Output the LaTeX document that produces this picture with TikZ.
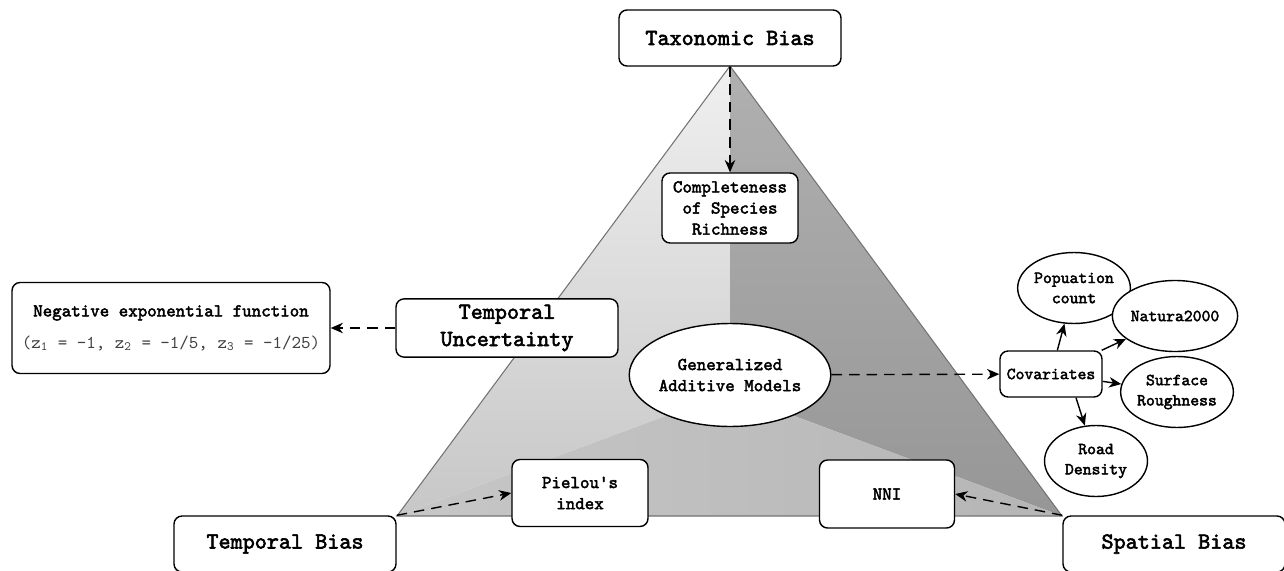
\documentclass[tikz,border=0pt]{standalone}
\usepackage{fontspec}
\setmonofont{lmmono10-regular.otf}[BoldFont=lmmono10-regular.otf, BoldFeatures={FakeBold=2.5}]
\usepackage{tikz}
\usetikzlibrary{positioning,shapes,arrows.meta}
\tikzset {
    style A/.style={
        fill=white,
        draw=black,
        line width=0.8pt,
        rectangle, % Set the shape as a rectangle
        rounded corners=.16cm,
        align=center,
        font=\ttfamily\bfseries\fontsize{10.3}{12}\selectfont,
    },
    style B/.style={
        fill=white,
        draw=black,
        line width=0.8pt,
        ellipse, % Set the shape as an ellipse
        inner sep=0pt,
        minimum width=2.06cm,
        minimum height=1.42cm,
        align=center,
        font=\ttfamily\bfseries\fontsize{9.6}{11.5}\selectfont,
    },
    style C/.style={
        style A,
        minimum width=4.44cm,
        minimum height=1.12cm,
        font=\ttfamily\bfseries\fontsize{13.1}{15.5}\selectfont,
    },
    dash arrow/.style={
        draw=black,
        line width=0.8pt,
        dash pattern=on 6pt off 4pt,
        -{Stealth[length=7pt,width=6pt]},
    },
    solid arrow/.style={
        draw=black,
        line width=0.8pt,
        -{Stealth[length=7pt,width=6pt]},
    },
}

\begin{document}
\begin{tikzpicture}[x=0.02cm, y=-0.02cm]
\useasboundingbox (0,0) rectangle (1284,571);

% triangle
\coordinate (apex) at (730,66);
\coordinate (left) at (397,516);
\coordinate (right) at (1062,516);
\coordinate (mid) at (730,392);
\path[top color=black!6, bottom color=black!22] (apex) -- (mid) -- (left) -- cycle;
\path[top color=black!31, bottom color=black!41] (apex) -- (right) -- (mid) -- cycle;
\path[left color=black!22, right color=black!29] (left) -- (mid) -- (right) -- cycle;
\draw[black!55, line width=0.6pt] (apex) -- (right) -- (left) -- cycle;

\node[style C] at (730, 38) (tax) {Taxonomic Bias};
\node[style C] at (285, 544) (tbias) {Temporal Bias};
\node[style C] at (1174, 544) (sbias) {Spatial Bias};
\node[style C, minimum height=1.14cm] at (507, 328) (tunc) {Temporal\\Uncertainty};
\node[style A, minimum width=6.36cm, minimum height=1.82cm] at (171, 328) (negexp)
  {Negative exponential function\\[6pt]
   {\mdseries\color{black!75}(z\textsubscript{1} = -1, z\textsubscript{2} = -1/5, z\textsubscript{3} = -1/25)}};
\node[style A, minimum width=2.72cm, minimum height=1.4cm] at (730, 208) (comp) {Completeness\\of Species\\Richness};
\node[style B, minimum width=3.2cm, minimum height=2.06cm, font=\ttfamily\bfseries\fontsize{10.3}{12}\selectfont] at (730, 375) (gam) {Generalized\\Additive Models};
\node[style A, minimum width=2.72cm, minimum height=1.34cm] at (580, 493) (piel) {Pielou's\\index};
\node[style A, minimum width=2.7cm, minimum height=1.36cm] at (887, 494) (nni) {NNI};
\node[style A, minimum width=2.04cm, minimum height=0.92cm, font=\ttfamily\bfseries\fontsize{9.6}{11.5}\selectfont] at (1051, 374) (cov) {Covariates};
\node[style B] at (1074, 288) (pop) {Popuation\\count};
\node[style B] at (1175, 316) (nat) {Natura2000};
\node[style B] at (1177, 392) (surf) {Surface\\Roughness};
\node[style B] at (1096, 461) (road) {Road\\Density};

\draw[dash arrow] (tax) -- (comp);
\draw[dash arrow] (tunc) -- (negexp);
\draw[dash arrow] (gam) -- (cov);
\draw[dash arrow] (tbias.north east) -- (piel.west);
\draw[dash arrow] (sbias.north west) -- (nni.east);
\draw[solid arrow] (cov) -- (pop);
\draw[solid arrow] (cov) -- (nat);
\draw[solid arrow] (cov) -- (surf);
\draw[solid arrow] ([xshift=0.5cm]cov.south) -- (road);
\end{tikzpicture}
\end{document}
